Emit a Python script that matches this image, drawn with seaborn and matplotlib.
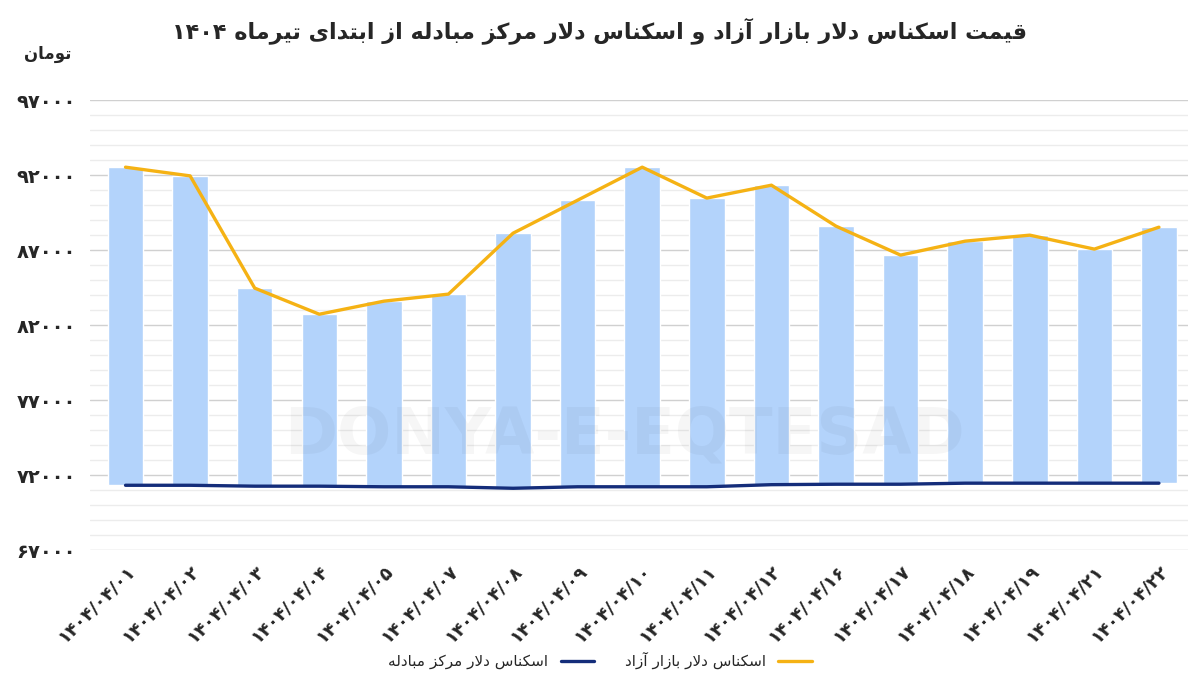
import matplotlib
matplotlib.use("Agg")
import matplotlib.pyplot as plt
import seaborn as sns
import pandas as pd
import numpy as np
from matplotlib.ticker import MultipleLocator, FuncFormatter

# ---- data ----
days = ["01", "02", "03", "04", "05", "07", "08", "09", "10", "11", "12",
        "16", "17", "18", "19", "21", "22"]
free_market = [92530, 91950, 84470, 82730, 83600, 84070, 88130, 90330, 92530,
               90470, 91330, 88600, 86670, 87600, 88000, 87070, 88530]
central_exchange = [71330, 71330, 71270, 71270, 71230, 71230, 71130, 71230, 71230,
                    71230, 71370, 71400, 71400, 71470, 71470, 71470, 71470]
y_ticks = [67000, 72000, 77000, 82000, 87000, 92000, 97000]

title_txt = "قیمت اسکناس دلار بازار آزاد و اسکناس دلار مرکز مبادله از ابتدای تیرماه ۱۴۰۴"
unit_txt = "تومان"
free_label = "اسکناس دلار بازار آزاد"
central_label = "اسکناس دلار مرکز مبادله"

# ---- tiny arabic shaper (no arabic_reshaper available) ----
FORMS = {
    "ا": (0xFE8D, 0xFE8E), "آ": (0xFE81, 0xFE82), "د": (0xFEA9, 0xFEAA),
    "ذ": (0xFEAB, 0xFEAC), "ر": (0xFEAD, 0xFEAE), "ز": (0xFEAF, 0xFEB0),
    "ژ": (0xFB8A, 0xFB8B), "و": (0xFEED, 0xFEEE),
    "ب": (0xFE8F, 0xFE90, 0xFE91, 0xFE92), "پ": (0xFB56, 0xFB57, 0xFB58, 0xFB59),
    "ت": (0xFE95, 0xFE96, 0xFE97, 0xFE98), "ث": (0xFE99, 0xFE9A, 0xFE9B, 0xFE9C),
    "ج": (0xFE9D, 0xFE9E, 0xFE9F, 0xFEA0), "چ": (0xFB7A, 0xFB7B, 0xFB7C, 0xFB7D),
    "ح": (0xFEA1, 0xFEA2, 0xFEA3, 0xFEA4), "خ": (0xFEA5, 0xFEA6, 0xFEA7, 0xFEA8),
    "س": (0xFEB1, 0xFEB2, 0xFEB3, 0xFEB4), "ش": (0xFEB5, 0xFEB6, 0xFEB7, 0xFEB8),
    "ص": (0xFEB9, 0xFEBA, 0xFEBB, 0xFEBC), "ض": (0xFEBD, 0xFEBE, 0xFEBF, 0xFEC0),
    "ط": (0xFEC1, 0xFEC2, 0xFEC3, 0xFEC4), "ظ": (0xFEC5, 0xFEC6, 0xFEC7, 0xFEC8),
    "ع": (0xFEC9, 0xFECA, 0xFECB, 0xFECC), "غ": (0xFECD, 0xFECE, 0xFECF, 0xFED0),
    "ف": (0xFED1, 0xFED2, 0xFED3, 0xFED4), "ق": (0xFED5, 0xFED6, 0xFED7, 0xFED8),
    "ک": (0xFB8E, 0xFB8F, 0xFB90, 0xFB91), "گ": (0xFB92, 0xFB93, 0xFB94, 0xFB95),
    "ل": (0xFEDD, 0xFEDE, 0xFEDF, 0xFEE0), "م": (0xFEE1, 0xFEE2, 0xFEE3, 0xFEE4),
    "ن": (0xFEE5, 0xFEE6, 0xFEE7, 0xFEE8), "ه": (0xFEE9, 0xFEEA, 0xFEEB, 0xFEEC),
    "ی": (0xFBFC, 0xFBFD, 0xFBFE, 0xFBFF),
}


def shape(text):
    # lam-alef ligatures first
    chars = []
    i = 0
    while i < len(text):
        c = text[i]
        if c == "ل" and i + 1 < len(text) and text[i + 1] in "اآ":
            chars.append("LA" if text[i + 1] == "ا" else "LAA")
            i += 2
        else:
            chars.append(c)
            i += 1
    lig = {"LA": (0xFEFB, 0xFEFC), "LAA": (0xFEF5, 0xFEF6)}

    def joins_left(c):  # can connect to following letter
        return c in FORMS and len(FORMS[c]) == 4

    def is_letter(c):
        return c in FORMS or c in lig

    out = []
    for k, c in enumerate(chars):
        prev = chars[k - 1] if k > 0 else None
        nxt = chars[k + 1] if k + 1 < len(chars) else None
        if c in lig:
            f = lig[c]
            out.append(chr(f[1] if prev and joins_left(prev) else f[0]))
            continue
        if c not in FORMS:
            out.append(c)
            continue
        f = FORMS[c]
        right = prev is not None and joins_left(prev)
        left = len(f) == 4 and nxt is not None and is_letter(nxt)
        if len(f) == 2:
            out.append(chr(f[1] if right else f[0]))
        else:
            if right and left:
                out.append(chr(f[3]))
            elif right:
                out.append(chr(f[1]))
            elif left:
                out.append(chr(f[2]))
            else:
                out.append(chr(f[0]))
    # visual order: reverse, keep digit runs LTR
    s = "".join(out)[::-1]
    res, run = [], ""
    for ch in s:
        if ch in "۰۱۲۳۴۵۶۷۸۹/0123456789":
            run += ch
        else:
            if run:
                res.append(run[::-1])
                run = ""
            res.append(ch)
    if run:
        res.append(run[::-1])
    return "".join(res)


def fa_digits(s):
    return str(s).translate(str.maketrans("0123456789", "۰۱۲۳۴۵۶۷۸۹"))


dates = [fa_digits(f"1404/04/{d}") for d in days]
df = pd.DataFrame({"date": dates, "free": free_market, "central": central_exchange})
df["gap"] = df["free"] - df["central"]

sns.set_theme(style="white", font="DejaVu Sans")
fig = plt.figure(figsize=(12, 6.81), dpi=100)
ax = fig.add_axes([0.075, 0.192, 0.915, 0.661])

x = np.arange(len(df))
ax.bar(x, df["gap"], bottom=df["central"], width=0.55, color="#b3d3fb", zorder=2)
sns.lineplot(x=x, y=df["free"], ax=ax, color="#f5b214", linewidth=2.4, zorder=3,
             label=shape(free_label))
sns.lineplot(x=x, y=df["central"], ax=ax, color="#142d7a", linewidth=2.4, zorder=3,
             label=shape(central_label))

ax.set_ylim(67000, 97000)
ax.set_xlim(-0.55, len(df) - 0.55)
ax.set_yticks(y_ticks)
ax.yaxis.set_minor_locator(MultipleLocator(1000))
ax.yaxis.set_major_formatter(FuncFormatter(lambda v, p: fa_digits(int(v))))
ax.grid(which="major", axis="y", color="#d0d0d0", linewidth=1, zorder=0)
ax.grid(which="minor", axis="y", color="#ececec", linewidth=1, zorder=0)
ax.tick_params(axis="y", which="both", length=0, labelsize=14, pad=10)
for t in ax.get_yticklabels():
    t.set_fontweight("bold")
ax.set_xticks(x)
ax.set_xticklabels(df["date"], rotation=45, ha="right", rotation_mode="anchor",
                   fontsize=13, fontweight="bold")
ax.tick_params(axis="x", length=0, pad=8)
for s in ax.spines.values():
    s.set_visible(False)
ax.set_xlabel("")
ax.set_ylabel("")

fig.text(0.5, 0.955, shape(title_txt), ha="center", va="center",
         fontsize=16, fontweight="bold")
fig.text(0.04, 0.92, shape(unit_txt), ha="center", va="center",
         fontsize=12, fontweight="bold")
fig.text(0.52, 0.36, "DONYA-E-EQTESAD", ha="center", va="center", fontsize=46,
         fontweight="bold", color="#000000", alpha=0.035, zorder=10)

ax.get_legend().remove()
h, l = ax.get_legend_handles_labels()
fig.legend(h[::-1], l[::-1], loc="center", bbox_to_anchor=(0.5, 0.03), ncol=2,
           frameon=False, fontsize=11, handlelength=2.2, markerfirst=False)

fig.savefig("out.png", dpi=100)
